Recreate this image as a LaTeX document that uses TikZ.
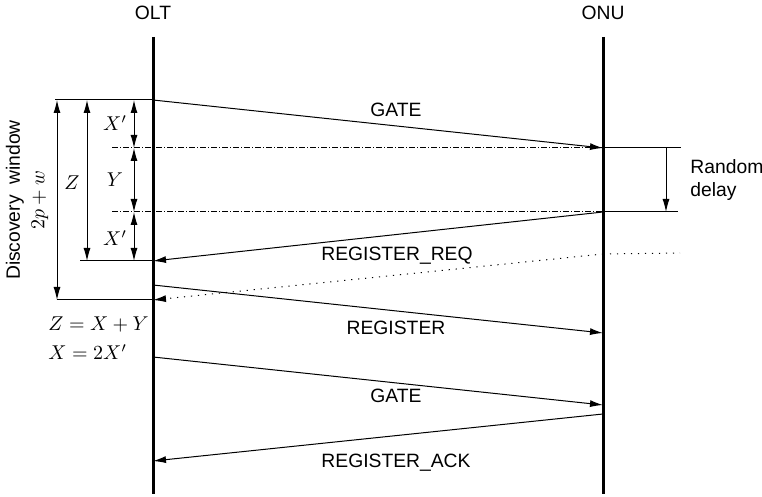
\documentclass[tikz,border=0pt]{standalone}
\usepackage[no-math]{fontspec}
\setsansfont{Liberation Sans}
\usetikzlibrary{arrows.meta}
\begin{document}
\begin{tikzpicture}[x=0.5pt, y=-0.5pt, every node/.style={inner sep=1pt},
    lbl/.style={font=\sffamily\fontsize{9.65}{11.5}\selectfont},
    mth/.style={font=\fontsize{9.8}{11.5}\selectfont},
    msg/.style={line width=0.5pt, -{Latex[length=6.5pt,width=3.5pt]}},
    dimarrow/.style={line width=0.5pt, {Latex[length=6.5pt,width=3.5pt]}-{Latex[length=6.5pt,width=3.5pt]}},
    dashdot/.style={line width=0.5pt, dash pattern=on 3pt off 1pt on 0.5pt off 1pt},
    dots/.style={line width=0.5pt, dash pattern=on 0.6pt off 2.9pt}]
\useasboundingbox (0,0) rectangle (762,497);
    % lifelines
    \node[lbl] (olt) at (153,13) {OLT};
    \node[lbl] (onu) at (603,13) {ONU};
    \coordinate (olt top) at (153,37);
    \coordinate (olt bot) at (153,494);
    \coordinate (onu top) at (603,37);
    \coordinate (onu bot) at (603,494);
    % message ends
    \coordinate (a1) at (153,100);
    \coordinate (a2) at (603,148);
    \coordinate (b1) at (603,212);
    \coordinate (b2) at (153,261);
    \coordinate (c1) at (603,254);
    \coordinate (c2) at (153,300);
    \coordinate (d1) at (153,285);
    \coordinate (d2) at (603,333);
    \coordinate (e1) at (153,357);
    \coordinate (e2) at (603,405);
    \coordinate (f1) at (603,414);
    \coordinate (f2) at (153,461);
    % ends of the guide lines
    \coordinate (h1) at (55,100);
    \coordinate (h2) at (80,261);
    \coordinate (h3) at (57,300);
    \coordinate (g1) at (112,148);
    \coordinate (g2) at (112,212);
    \coordinate (r1) at (681,148);
    \coordinate (r2) at (678,212);
    \coordinate (r3) at (680,253);
    % dimension ends
    \coordinate (w1) at (57,100);
    \coordinate (w2) at (57,300);
    \coordinate (z1) at (87,100);
    \coordinate (z2) at (87,261);
    \coordinate (x1) at (134,100);
    \coordinate (x2) at (134,148);
    \coordinate (x3) at (134,212);
    \coordinate (x4) at (134,261);
    \coordinate (q1) at (666,148);
    \coordinate (q2) at (666,212);
\draw[line width=1.5pt] (olt top) -- (olt bot);
\draw[line width=1.5pt] (onu top) -- (onu bot);
    \foreach \from/\to in {a1/a2, b1/b2, d1/d2, e1/e2, f1/f2, q1/q2}
        \draw[msg] (\from) -- (\to);
    \foreach \from/\to in {h1/a1, h2/b2, h3/c2, a2/r1, b1/r2}
        \draw[line width=0.5pt] (\from) -- (\to);
    \foreach \from/\to in {g1/a2, g2/b1}
        \draw[dashdot] (\from) -- (\to);
    \foreach \from/\to in {w1/w2, z1/z2, x1/x2, x2/x3, x3/x4}
        \draw[dimarrow] (\from) -- (\to);
\draw[dots, -{Latex[length=6.5pt,width=3.5pt]}] (c1) -- (c2);
\draw[dots] (c1) -- (r3);
    % labels
    \node[lbl] (m1) at (396,110) {GATE};
    \node[lbl] (m2) at (397,256) {REGISTER\_REQ};
    \node[lbl] (m3) at (396,328) {REGISTER};
    \node[lbl] (m4) at (396,396) {GATE};
    \node[lbl] (m5) at (396,463) {REGISTER\_ACK};
    \node[lbl, anchor=west, align=left] (rd) at (688,180) {Random\\delay};
    \node[lbl, rotate=90] (dw) at (15,200) {Discovery\ \ window};
    \node[mth, rotate=90] (pw) at (40,200) {$2p+w$};
    \node[mth] (lz) at (72,183) {$Z$};
    \node[mth] (lx1) at (115,123) {$X'$};
    \node[mth] (ly) at (115,180) {$Y$};
    \node[mth] (lx2) at (115,238) {$X'$};
    \node[mth, anchor=west] (e1t) at (46,325) {$Z=X+Y$};
    \node[mth, anchor=west] (e2t) at (46,352) {$X=2X'$};
\end{tikzpicture}
\end{document}
